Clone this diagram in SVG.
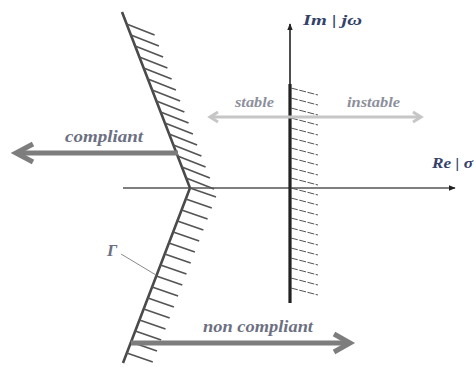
<svg xmlns="http://www.w3.org/2000/svg" width="474" height="367" viewBox="0 0 474 367">
  <defs>
    <style>
      .lbl { font-family: "Liberation Serif", "Times New Roman", serif; font-style: italic; font-weight: bold; }
      .axislbl { fill: #34426a; font-size: 15px; }
      .region { fill: #8d909c; font-size: 15px; }
      .comp { fill: #6c7082; font-size: 17px; }
      .boundary { fill: none; stroke: #4a4a4a; stroke-width: 2.6; stroke-linejoin: miter; }
      .hatch { fill: none; stroke: #555; stroke-width: 1.8; }
      .vhatch { fill: none; stroke: #555; stroke-width: 1; stroke-dasharray: 7 1.5; }
      .bigarrow { fill: none; stroke: #7d7d7d; stroke-width: 5; stroke-linejoin: miter; }
      .lightarrow { fill: none; stroke: #c6c6c6; stroke-width: 3; stroke-linejoin: miter; }
    </style>
    <marker id="axhead" viewBox="0 0 10 10" refX="9" refY="5" markerWidth="7" markerHeight="7" orient="auto" markerUnits="userSpaceOnUse">
      <path d="M0,1 L10,5 L0,9 Z" fill="#222"/>
    </marker>
  </defs>

  <!-- real axis -->
  <g id="real-axis">
    <line x1="123" y1="188" x2="455" y2="188" stroke="#555" stroke-width="1.6" marker-end="url(#axhead)"/>
    <text class="lbl axislbl" x="432" y="168" textLength="41" lengthAdjust="spacingAndGlyphs">Re | σ</text>
  </g>

  <!-- imaginary axis with stability boundary hatching -->
  <g id="imag-axis">
    <line x1="290" y1="303" x2="290" y2="24" stroke="#222" stroke-width="1.6" marker-end="url(#axhead)"/>
    <line x1="290" y1="84" x2="290" y2="303" stroke="#222" stroke-width="3.2"/>
    <path class="vhatch" d="M291,88 l27,7 M291,98 l27,7 M291,108 l27,7 M291,118 l27,7 M291,128 l27,7 M291,138 l27,7 M291,148 l27,7 M291,158 l27,7 M291,168 l27,7 M291,178 l27,7 M291,188 l27,7 M291,198 l27,7 M291,208 l27,7 M291,218 l27,7 M291,228 l27,7 M291,238 l27,7 M291,248 l27,7 M291,258 l27,7 M291,268 l27,7 M291,278 l27,7 M291,288 l27,7"/>
    <text class="lbl axislbl" x="303" y="25" textLength="59" lengthAdjust="spacingAndGlyphs">Im | jω</text>
  </g>

  <!-- boundary curve Gamma -->
  <g id="gamma">
    <polyline class="boundary" points="122,12 190,188 123,363"/>
    <path class="hatch" d="M126.6,24 l28,11 M130.9,35 l28,11 M135.1,46 l28,11 M139.4,57 l28,11 M143.6,68 l28,11 M147.9,79 l28,11 M152.1,90 l28,11 M156.4,101 l28,11 M160.6,112 l28,11 M164.9,123 l28,11 M169.1,134 l28,11 M173.4,145 l28,11 M177.6,156 l28,11 M181.9,167 l28,11 M186.1,178 l28,11"/>
    <path class="hatch" d="M190,188 l26,9 M185.8,199 l26,9 M181.6,210 l26,9 M177.4,221 l26,9 M173.2,232 l26,9 M168.9,243 l26,9 M164.7,254 l26,9 M160.5,265 l26,9 M156.3,276 l26,9 M152.1,287 l26,9 M147.9,298 l26,9 M143.7,309 l26,9 M139.5,320 l26,9 M135.2,331 l26,9 M131,342 l26,9 M126.8,353 l26,9"/>
    <line x1="121" y1="254" x2="156" y2="275" stroke="#8a8a8a" stroke-width="1"/>
    <text class="lbl comp" x="107" y="256" fill="#4a5578">Γ</text>
  </g>

  <!-- direction arrows -->
  <g id="connectors">
    <g id="stability-arrow">
      <line class="lightarrow" x1="210" y1="117" x2="421" y2="117"/>
      <polyline class="lightarrow" points="218,112 210,117 218,122"/>
      <polyline class="lightarrow" points="413,112 421,117 413,122"/>
    </g>
    <g id="compliant-arrow">
      <line class="bigarrow" x1="178" y1="153" x2="16" y2="153"/>
      <polyline class="bigarrow" points="33,144 16,153 33,162"/>
    </g>
    <g id="noncompliant-arrow">
      <line class="bigarrow" x1="131" y1="343" x2="350" y2="343"/>
      <polyline class="bigarrow" points="334,334 350,343 334,352"/>
    </g>
  </g>

  <!-- region labels -->
  <g id="labels">
    <text class="lbl region" x="235" y="107" textLength="39" lengthAdjust="spacingAndGlyphs">stable</text>
    <text class="lbl region" x="347" y="107" textLength="53" lengthAdjust="spacingAndGlyphs">instable</text>
    <text class="lbl comp" x="65" y="142" textLength="78" lengthAdjust="spacingAndGlyphs">compliant</text>
    <text class="lbl comp" x="203" y="332" textLength="110" lengthAdjust="spacingAndGlyphs">non compliant</text>
  </g>
</svg>
